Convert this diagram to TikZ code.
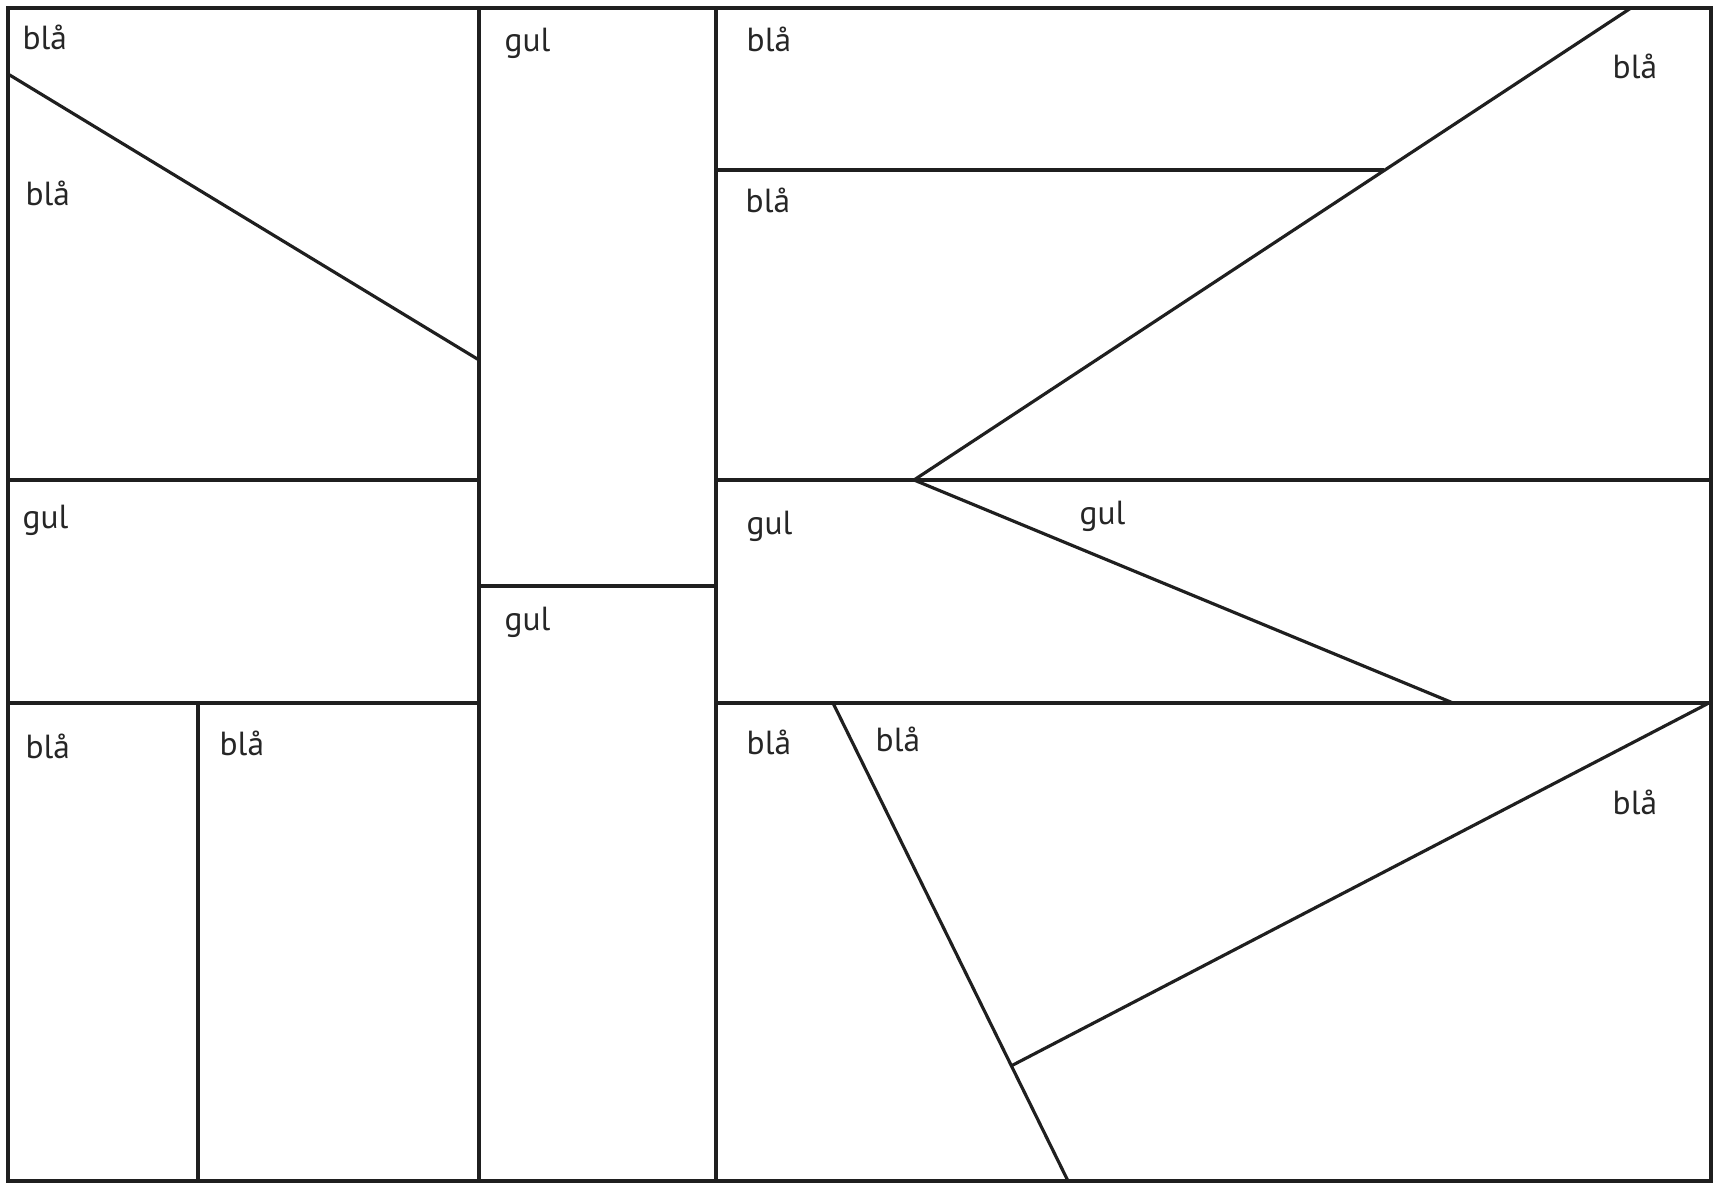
\documentclass[tikz,border=0pt]{standalone}
\usepackage{fontspec}
\setmainfont{PT Sans}
\begin{document}
\begin{tikzpicture}[x=0.01cm,y=-0.01cm,
  edge/.style={draw=black!88,line width=0.9pt},
  lbl/.style={anchor=base west,inner sep=0pt,text=black!85,font=\fontsize{9.5}{11}\selectfont}]
\useasboundingbox (0,0) rectangle (1715,1183);
% corners and border
\coordinate (TL) at (8,8);
\coordinate (BR) at (1711,1181);
\draw[edge] (TL) rectangle (BR);
% main verticals
\coordinate (v1t) at (479,8);   \coordinate (v1b) at (479,1181);
\coordinate (v2t) at (716,8);   \coordinate (v2b) at (716,1181);
\draw[edge] (v1t) -- (v1b);
\draw[edge] (v2t) -- (v2b);
% left column
\coordinate (ld1) at (8,74);    \coordinate (ld2) at (479,360);
\coordinate (lh1a) at (8,480);  \coordinate (lh1b) at (479,480);
\coordinate (lh2a) at (8,703);  \coordinate (lh2b) at (479,703);
\coordinate (lvt) at (198,703); \coordinate (lvb) at (198,1181);
\draw[edge] (ld1) -- (ld2);
\draw[edge] (lh1a) -- (lh1b);
\draw[edge] (lh2a) -- (lh2b);
\draw[edge] (lvt) -- (lvb);
% middle column
\coordinate (mha) at (479,586); \coordinate (mhb) at (716,586);
\draw[edge] (mha) -- (mhb);
% right part
\coordinate (rh0a) at (716,170); \coordinate (rh0b) at (1384,170);
\coordinate (rtop) at (1631,8);  \coordinate (rv) at (914,480);
\coordinate (rh1a) at (716,480); \coordinate (rh1b) at (1711,480);
\coordinate (rlow) at (1453,703);
\coordinate (rh2a) at (716,703); \coordinate (rh2b) at (1711,703);
\coordinate (bd1) at (833,703);  \coordinate (bd2) at (1068,1181);
\coordinate (bd3) at (1707,704); \coordinate (bd4) at (1011,1066);
\draw[edge] (rh0a) -- (rh0b);
\draw[edge] (rtop) -- (rv) -- (rlow);
\draw[edge] (rh1a) -- (rh1b);
\draw[edge] (rh2a) -- (rh2b);
\draw[edge] (bd1) -- (bd2);
\draw[edge] (bd3) -- (bd4);
% labels
\node[lbl] (t1) at (22,50) {blå};
\node[lbl] (t2) at (25,206) {blå};
\node[lbl] (t3) at (504,52) {gul};
\node[lbl] (t4) at (746,52) {blå};
\node[lbl] (t5) at (745,213) {blå};
\node[lbl] (t6) at (1612,79) {blå};
\node[lbl] (t7) at (22,529) {gul};
\node[lbl] (t8) at (25,759) {blå};
\node[lbl] (t9) at (219,756) {blå};
\node[lbl] (t10) at (504,631) {gul};
\node[lbl] (t11) at (746,535) {gul};
\node[lbl] (t12) at (1079,525) {gul};
\node[lbl] (t13) at (746,755) {blå};
\node[lbl] (t14) at (875,752) {blå};
\node[lbl] (t15) at (1612,815) {blå};
\end{tikzpicture}
\end{document}
